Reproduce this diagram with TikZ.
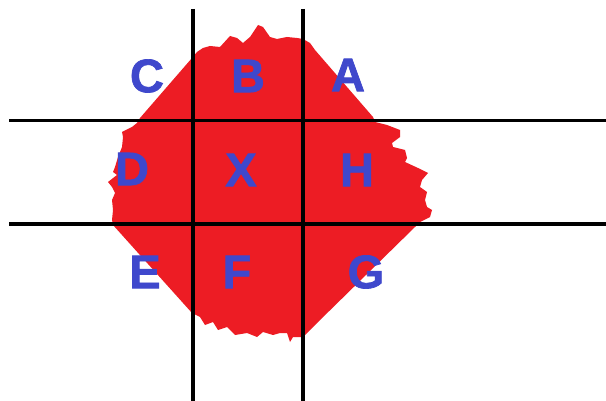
\documentclass[tikz,border=0pt]{standalone}
\usepackage{fontspec}
\setmainfont{Liberation Sans}
\newfontfamily\letterfont{Liberation Sans}[UprightFont=*-Bold, FakeBold=1.5]
\definecolor{paintred}{RGB}{237,28,36}
\definecolor{paintblue}{RGB}{63,72,204}
\begin{document}
\begin{tikzpicture}[x=1pt,y=-1pt,
  gridline/.style={line width=3.5pt,black},
  letter/.style={inner sep=0pt,text=paintblue,font=\fontsize{47}{47}\letterfont}]
\useasboundingbox (0,0) rectangle (606,401);
\fill[white] (0,0) rectangle (606,401);
% red blob
\fill[paintred] (192,58) -- (197,52) -- (203,48) -- (210,46) -- (220,47) -- (230,36) -- (237,38) -- (243,43)
  -- (250,37) -- (258,25) -- (263,27) -- (270,37) -- (277,39) -- (287,37) -- (297,38) -- (303,39)
  -- (310,43) -- (315,50) -- (373,117) -- (375,122) -- (387,125) -- (400,130) -- (400,137) -- (392,143)
  -- (393,147) -- (405,150) -- (407,158) -- (405,162) -- (418,168) -- (428,173) -- (422,180) -- (420,187)
  -- (427,192) -- (425,200) -- (427,207) -- (432,210) -- (430,217) -- (420,222) -- (415,227)
  -- (317,323) -- (307,333) -- (303,337) -- (293,337) -- (290,342) -- (287,333) -- (280,333) -- (273,335)
  -- (263,332) -- (257,337) -- (247,333) -- (235,335) -- (227,327) -- (218,330) -- (213,322) -- (205,325)
  -- (200,317) -- (192,313) -- (113,225) -- (112,220) -- (113,210) -- (112,200) -- (115,193) -- (112,187)
  -- (108,182) -- (117,175) -- (113,172) -- (115,167) -- (118,157) -- (122,147) -- (123,137) -- (122,132)
  -- (132,127) -- (137,123) -- (140,118) -- cycle;
% grid lines
\coordinate (v1t) at (193,9);   \coordinate (v1b) at (193,401);
\coordinate (v2t) at (303,9);   \coordinate (v2b) at (303,401);
\coordinate (h1l) at (9,120.5); \coordinate (h1r) at (606,120.5);
\coordinate (h2l) at (9,224);   \coordinate (h2r) at (606,224);
\draw[gridline] (v1t) -- (v1b);
\draw[gridline] (v2t) -- (v2b);
\draw[gridline] (h1l) -- (h1r);
\draw[gridline] (h2l) -- (h2r);
% letters
\node[letter] (C) at (147,76) {C};
\node[letter] (B) at (248,76) {B};
\node[letter] (A) at (348,75) {A};
\node[letter] (D) at (132,169) {D};
\node[letter] (X) at (241,170) {X};
\node[letter] (H) at (357,170) {H};
\node[letter] (E) at (145,272) {E};
\node[letter] (F) at (237,272) {F};
\node[letter] (G) at (366,272) {G};
\end{tikzpicture}
\end{document}
